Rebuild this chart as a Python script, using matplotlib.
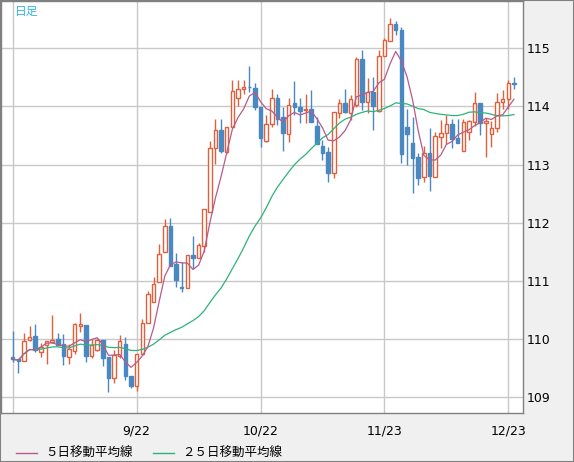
import matplotlib
matplotlib.use('Agg')
import matplotlib.pyplot as plt
from matplotlib.patches import Rectangle
from matplotlib.lines import Line2D
import numpy as np
import pandas as pd

# 日足データ (始値, 高値, 安値, 終値)
opens = [109.70, 109.65, 109.63, 109.98, 110.05, 109.78, 109.89, 109.95, 110.00, 109.91,
         109.69, 109.80, 110.23, 110.24, 109.71, 109.82, 109.99, 109.69, 109.33, 109.71,
         109.92, 109.36, 109.20, 109.75, 110.28, 110.64, 110.98, 111.49, 111.94, 111.29,
         110.89, 110.88, 111.44, 111.40, 111.60, 112.19, 113.28, 113.59, 113.22, 113.65,
         114.15, 114.29, 114.34, 114.31, 113.99, 113.41, 113.69, 114.14, 113.81, 113.53,
         114.06, 113.99, 113.93, 113.95, 113.67, 113.32, 113.22, 112.86, 113.89, 114.05,
         113.88, 114.02, 114.82, 114.08, 114.25, 113.92, 114.86, 115.13, 115.41, 115.32,
         113.65, 113.37, 113.13, 112.79, 113.19, 112.79, 113.48, 113.55, 113.69, 113.45,
         113.23, 113.56, 113.73, 114.05, 113.72, 113.53, 113.62, 114.08, 114.12, 114.40]
highs = [110.14, 109.66, 110.11, 110.22, 110.26, 109.94, 109.97, 110.42, 110.10, 110.08,
         109.92, 110.28, 110.45, 110.24, 110.00, 110.00, 109.99, 109.69, 109.81, 110.07,
         110.03, 109.36, 109.75, 110.34, 110.82, 111.06, 111.63, 112.06, 112.08, 111.48,
         111.32, 111.45, 111.77, 111.65, 112.24, 113.40, 113.79, 113.79, 113.65, 114.45,
         114.46, 114.45, 114.69, 114.40, 113.99, 113.85, 114.29, 114.22, 113.99, 114.14,
         114.43, 114.14, 114.22, 114.28, 113.81, 113.42, 113.30, 113.90, 114.13, 114.30,
         114.19, 114.85, 114.97, 114.48, 114.51, 114.96, 115.17, 115.51, 115.47, 115.37,
         113.96, 113.82, 113.20, 113.32, 113.62, 113.56, 113.77, 113.85, 113.79, 113.79,
         113.79, 113.76, 114.25, 114.05, 113.80, 113.74, 114.23, 114.28, 114.45, 114.51]
lows = [109.61, 109.41, 109.63, 109.96, 109.77, 109.69, 109.58, 109.94, 109.89, 109.56,
        109.58, 109.75, 110.12, 109.61, 109.67, 109.80, 109.53, 109.09, 109.24, 109.67,
        109.30, 109.16, 109.11, 109.75, 110.28, 110.64, 110.98, 111.49, 111.26, 110.90,
        110.81, 110.87, 111.20, 111.40, 111.50, 112.19, 113.01, 113.19, 113.19, 113.65,
        114.01, 114.22, 114.25, 113.93, 113.30, 113.39, 113.65, 113.68, 113.24, 113.39,
        113.85, 113.71, 113.71, 113.73, 113.36, 113.08, 112.70, 112.76, 113.80, 113.88,
        113.76, 113.99, 113.93, 113.88, 113.59, 113.90, 114.86, 115.13, 115.22, 113.02,
        112.99, 112.51, 112.64, 112.70, 112.54, 112.79, 113.29, 113.36, 113.28, 113.37,
        113.23, 113.42, 113.66, 113.51, 113.13, 113.30, 113.56, 113.96, 113.96, 114.29]
closes = [109.65, 109.63, 109.96, 110.04, 109.81, 109.87, 109.97, 109.99, 109.89, 109.71,
          109.83, 110.26, 110.26, 109.71, 109.90, 109.99, 109.68, 109.33, 109.72, 109.96,
          109.36, 109.20, 109.75, 110.28, 110.77, 110.95, 111.47, 111.94, 111.26, 111.01,
          110.87, 111.45, 111.40, 111.61, 112.24, 113.29, 113.60, 113.24, 113.64, 114.27,
          114.29, 114.34, 114.33, 113.98, 113.46, 113.69, 114.14, 113.79, 113.55, 114.02,
          113.98, 113.92, 113.95, 113.73, 113.36, 113.20, 112.85, 113.90, 114.05, 113.91,
          114.13, 114.82, 114.08, 114.25, 114.00, 114.86, 115.14, 115.41, 115.31, 113.18,
          113.52, 113.12, 112.77, 113.19, 112.81, 113.49, 113.55, 113.69, 113.44, 113.37,
          113.73, 113.75, 114.05, 113.71, 113.74, 113.62, 114.08, 114.12, 114.40, 114.39]

date_ticks = [0, 22, 44, 66, 88]
date_labels = ['', '9/22', '10/22', '11/23', '12/23']
price_ticks = [109, 110, 111, 112, 113, 114, 115]

RED = '#e0603c'
BLUE = '#4a88c2'
MA5_COLOR = '#b85a8c'
MA25_COLOR = '#2db37a'
GRID = '#c8c8c8'
FRAME = '#808080'

df = pd.DataFrame({'o': opens, 'h': highs, 'l': lows, 'c': closes})
df['ma5'] = df['c'].rolling(5, min_periods=1).mean()
df['ma25'] = df['c'].rolling(25, min_periods=1).mean()
x = np.arange(len(df))

W, H = 574, 462
fig = plt.figure(figsize=(W / 100, H / 100), dpi=100, facecolor='#f0f0f0')
ax = fig.add_axes([1 / W, (H - 413) / H, 522 / W, 412 / H])
ax.set_facecolor('white')

up = df['c'] >= df['o']
# ひげ
ax.vlines(x[up], df['l'][up], df['h'][up], color=RED, linewidth=1, zorder=2)
ax.vlines(x[~up], df['l'][~up], df['h'][~up], color=BLUE, linewidth=1, zorder=2)
# 実体
body_h = (df['c'] - df['o']).abs().clip(lower=0.004)
body_b = df[['o', 'c']].min(axis=1)
ax.bar(x[up], body_h[up], bottom=body_b[up], width=0.62, facecolor='white',
       edgecolor=RED, linewidth=1, zorder=3)
ax.bar(x[~up], body_h[~up], bottom=body_b[~up], width=0.62, facecolor=BLUE,
       edgecolor=BLUE, linewidth=1, zorder=3)

# 移動平均線
ax.plot(x, df['ma25'], color=MA25_COLOR, linewidth=0.9, zorder=4)
ax.plot(x, df['ma5'], color=MA5_COLOR, linewidth=0.9, zorder=4)

ax.set_xlim(-2.08, 90.6)
ax.set_ylim(108.73, 115.81)
ax.set_xticks(date_ticks)
ax.set_xticklabels(date_labels)
ax.set_yticks(price_ticks)
ax.yaxis.tick_right()
ax.tick_params(axis='both', length=0, labelsize=9, colors='black')
ax.tick_params(axis='x', pad=8)
ax.tick_params(axis='y', pad=2.5)
ax.grid(True, color=GRID, linewidth=1)
ax.set_axisbelow(True)
for s in ax.spines.values():
    s.set_color(FRAME)
    s.set_linewidth(1)


def px(xp, yp):
    return xp / W, 1 - yp / H


jp = ['Noto Sans CJK JP', 'DejaVu Sans']
fig.text(*px(15, 11), '日足', fontsize=8.5, color='#33b5e5', family=jp, va='center', ha='left')

# 凡例
fig.add_artist(Line2D([16 / W, 37 / W], [1 - 453 / H] * 2, color=MA5_COLOR, linewidth=1))
fig.text(*px(45, 453), '５日移動平均線', fontsize=9, family=jp, va='center', ha='left')
fig.add_artist(Line2D([153 / W, 174 / W], [1 - 453 / H] * 2, color=MA25_COLOR, linewidth=1))
fig.text(*px(182, 453), '２５日移動平均線', fontsize=9, family=jp, va='center', ha='left')

fig.add_artist(Rectangle((0, 0), 1, 1, transform=fig.transFigure, fill=False,
                         edgecolor=FRAME, linewidth=1.5))

fig.savefig('out.png', dpi=100, facecolor=fig.get_facecolor())
